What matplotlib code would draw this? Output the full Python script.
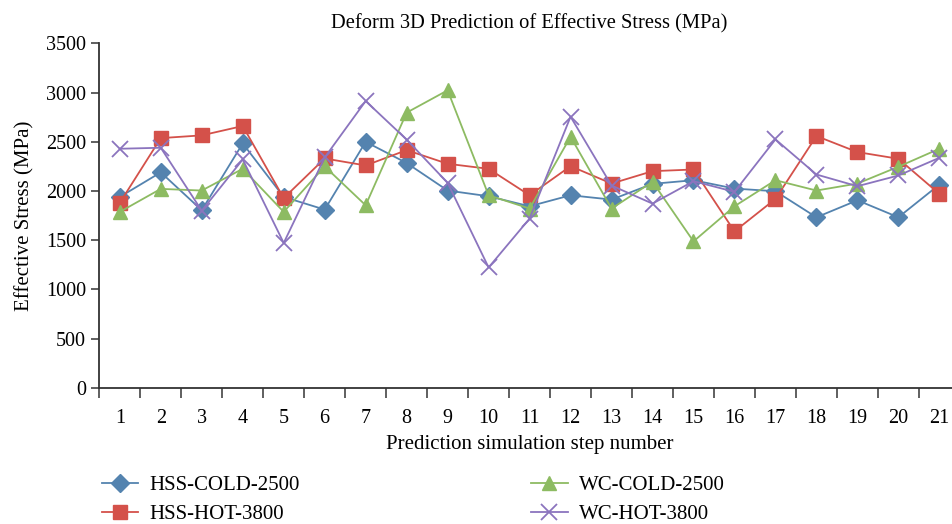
import matplotlib
matplotlib.use("Agg")
import matplotlib.pyplot as plt
import numpy as np

# ---------- Data ----------
steps = list(range(1, 22))
hss_cold = [1940, 2190, 1805, 2484, 1940, 1811, 2500, 2285, 2005, 1947, 1845,
            1957, 1913, 2073, 2110, 2025, 1998, 1733, 1906, 1733, 2066]
hss_hot = [1880, 2538, 2566, 2661, 1928, 2331, 2260, 2416, 2277, 2226, 1957,
           2253, 2076, 2202, 2219, 1590, 1920, 2559, 2396, 2328, 1971]
wc_cold = [1788, 2022, 2005, 2226, 1788, 2250, 1855, 2797, 3024, 1957, 1822,
           2552, 1822, 2094, 1488, 1845, 2110, 2005, 2076, 2247, 2430]
wc_hot = [2430, 2440, 1800, 2321, 1472, 2341, 2915, 2523, 2083, 1223, 1720,
          2756, 2056, 1872, 2100, 1992, 2525, 2168, 2049, 2158, 2338]

# ---------- Style ----------
plt.rcParams['font.family'] = ['Liberation Serif', 'DejaVu Serif']

fig = plt.figure(figsize=(9.53, 5.24), dpi=100)
ax = fig.add_axes([0.1042, 0.260, 0.903, 0.657])

ax.plot(steps, hss_cold, color="#5483AF", marker="D", markersize=9, lw=1.3, label="HSS-COLD-2500")
ax.plot(steps, hss_hot, color="#D4514A", marker="s", markersize=10.5, lw=1.3, label="HSS-HOT-3800")
ax.plot(steps, wc_cold, color="#8DBB62", marker="^", markersize=10, lw=1.3, label="WC-COLD-2500")
ax.plot(steps, wc_hot, color="#8B74BE", marker="x", markersize=11, mew=1.3, lw=1.3, label="WC-HOT-3800")

ax.set_xlim(0.5, 21.5)
ax.set_ylim(0, 3500)
ax.set_yticks(np.arange(0, 3501, 500))
ax.set_xticks(steps)
ax.set_xticks(np.arange(0.5, 22, 1), minor=True)
ax.tick_params(axis="x", which="major", length=0, labelsize=14.5, pad=15)
ax.tick_params(axis="x", which="minor", length=7, width=1.2, color="#444444")
ax.tick_params(axis="y", length=6, width=1.2, color="#444444", labelsize=14.5)

for s in ["top", "right"]:
    ax.spines[s].set_visible(False)
for s in ["left", "bottom"]:
    ax.spines[s].set_linewidth(1.3)
    ax.spines[s].set_color("#333333")

ax.set_title("Deform 3D Prediction of Effective Stress (MPa)", fontsize=14.8, pad=11)
ax.set_xlabel("Prediction simulation step number", fontsize=15, labelpad=5)
ax.set_ylabel("Effective Stress (MPa)", fontsize=15, labelpad=8)

fig.legend(loc="upper left", bbox_to_anchor=(0.087, 0.128), ncol=2, frameon=False,
           fontsize=15, columnspacing=11.1, handlelength=1.75, handletextpad=0.55,
           labelspacing=0.45)

plt.savefig("out.png", dpi=100)
